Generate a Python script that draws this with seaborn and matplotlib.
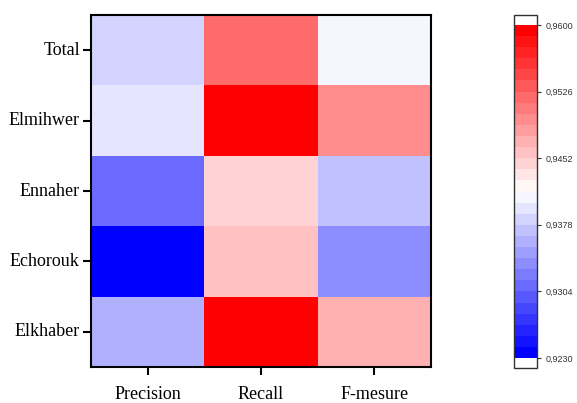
import numpy as np
import pandas as pd
import matplotlib
matplotlib.use("Agg")
import matplotlib.pyplot as plt
from matplotlib.colors import ListedColormap
import seaborn as sns

rows = ["Total", "Elmihwer", "Ennaher", "Echorouk", "Elkhaber"]
cols = ["Precision", "Recall", "F-mesure"]
precision = [0.9384, 0.9394, 0.9310, 0.9230, 0.9358]
recall = [0.9522, 0.9600, 0.9448, 0.9461, 0.9600]
fmesure = [0.9407, 0.9500, 0.9372, 0.9332, 0.9472]
cbar_ticks = [0.9230, 0.9304, 0.9378, 0.9452, 0.9526, 0.9600]
vmin, vmax = 0.9230, 0.9600
n_levels = 30

df = pd.DataFrame({"Precision": precision, "Recall": recall, "F-mesure": fmesure}, index=rows)

colors = []
for i in range(n_levels):
    t = i / (n_levels - 1)
    if t < 0.5:
        colors.append((2 * t, 2 * t, 1.0))
    else:
        colors.append((1.0, 2 * (1 - t), 2 * (1 - t)))
cmap = ListedColormap(colors)
cmap.set_over("white")
cmap.set_under("white")

fig = plt.figure(figsize=(5.77, 4.03), dpi=100)
ax = fig.add_axes([91 / 577, 1 - 367 / 403, 340 / 577, 352 / 403])
cax = fig.add_axes([514 / 577, 1 - 368 / 403, 23 / 577, 353 / 403])

sns.heatmap(df, ax=ax, cbar_ax=cax, cmap=cmap, vmin=vmin, vmax=vmax,
            cbar_kws={"extend": "both", "extendrect": True, "extendfrac": 0.03,
                      "ticks": cbar_ticks})

for s in ax.spines.values():
    s.set_visible(True)
    s.set_linewidth(1.5)
    s.set_color("black")

ax.tick_params(axis="both", which="both", length=6, width=1.5, direction="out",
               color="black")
ax.tick_params(axis="x", pad=8)
ax.tick_params(axis="y", pad=2)
ax.set_xticklabels(cols, rotation=0, fontsize=13, family="Liberation Serif")
ax.set_yticklabels(rows, rotation=0, fontsize=13, family="Liberation Serif")
ax.set_xlabel("")
ax.set_ylabel("")

cb = ax.collections[0].colorbar
cb.outline.set_linewidth(1.0)
cb.outline.set_edgecolor("#333333")
cb.set_ticks(cbar_ticks)
cb.set_ticklabels([f"{t:.4f}".replace(".", ",") for t in cbar_ticks])
cax.tick_params(length=3, width=0.8, labelsize=6.5, pad=3, colors="#333333")
for lab in cax.get_yticklabels():
    lab.set_family("Liberation Sans")

fig.savefig("out.png", dpi=100)
